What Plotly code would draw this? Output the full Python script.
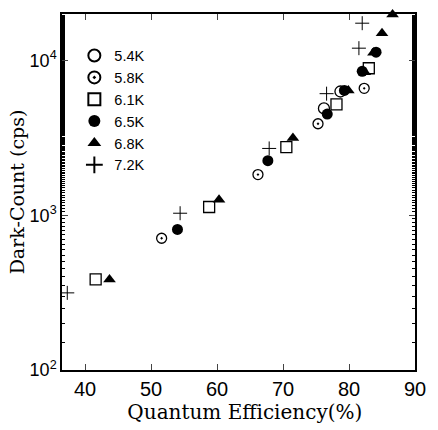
import plotly.graph_objects as go

# Data (Quantum Efficiency %, Dark-Count cps)
qe_54 = [76.2, 78.7]
dc_54 = [4900, 6300]

qe_58 = [51.6, 66.2, 75.3, 82.3]
dc_58 = [710, 1830, 3900, 6600]

qe_61 = [41.6, 58.8, 70.5, 78.1, 83.0]
dc_61 = [385, 1130, 2750, 5200, 8900]

qe_65 = [54.0, 67.7, 76.7, 79.3, 82.0, 84.1]
dc_65 = [810, 2250, 4500, 6400, 8500, 11300]

qe_68 = [43.7, 60.3, 71.5, 79.9, 82.4, 83.7, 85.0, 86.6]
dc_68 = [385, 1260, 3150, 6400, 8400, 11200, 15000, 19800]

qe_72 = [37.3, 54.4, 67.9, 76.6, 81.5, 82.0]
dc_72 = [315, 1030, 2700, 6100, 12000, 17400]

x_ticks = [40, 50, 60, 70, 80, 90]
y_tickvals = [100, 1000, 10000]
y_ticktext = ["10<sup>2</sup>", "10<sup>3</sup>", "10<sup>4</sup>"]

fig = go.Figure()

def add(x, y, name, symbol, size=10, color="black", width=1.3):
    fig.add_trace(go.Scatter(
        x=x, y=y, mode="markers", name=name, cliponaxis=False,
        marker=dict(symbol=symbol, size=size, color=color,
                    line=dict(color="black", width=width)),
    ))

add(qe_54, dc_54, "5.4K", "circle-open", size=11)
add(qe_58, dc_58, "5.8K", "circle-open-dot", size=10)
add(qe_61, dc_61, "6.1K", "square-open", size=11)
add(qe_65, dc_65, "6.5K", "circle", size=11, width=0)
add(qe_68, dc_68, "6.8K", "triangle-up", size=11, width=0)
add(qe_72, dc_72, "7.2K", "cross-thin-open", size=10, width=1.0)

fig.update_layout(
    width=438, height=430,
    margin=dict(l=62, r=15, t=13, b=55),
    paper_bgcolor="white", plot_bgcolor="white",
    font=dict(family="Liberation Sans, Arial", size=16, color="black"),
    legend=dict(x=0.035, y=0.928, xanchor="left", yanchor="top",
                bgcolor="rgba(0,0,0,0)", font=dict(size=14.5),
                itemsizing="constant", tracegroupgap=0),
    showlegend=True,
)

fig.update_xaxes(
    range=[36.5, 90], tickvals=x_ticks, ticks="inside", ticklen=6,
    showline=True, linecolor="black", linewidth=1.5, mirror="ticks",
    showgrid=False, zeroline=False,
    tickfont=dict(size=20, family="Liberation Sans, Arial"),
    title=dict(text="&nbsp;&nbsp;Quantum Efficiency(%)", standoff=4,
               font=dict(family="DejaVu Serif", size=20)),
)
fig.update_yaxes(
    type="log", range=[2, 4.30], tickvals=y_tickvals, ticktext=y_ticktext,
    ticks="inside", ticklen=6,
    minor=dict(ticks="inside", ticklen=3, tickcolor="black", showgrid=False),
    showline=True, linecolor="black", linewidth=1.5, mirror="ticks",
    showgrid=False, zeroline=False,
    tickfont=dict(size=18, family="Liberation Sans, Arial"),
    title=dict(text="Dark-Count (cps)", standoff=0,
               font=dict(family="DejaVu Serif", size=19)),
)

fig.write_html("out.html", config={"displayModeBar": False},
               post_script="document.body.style.margin='0px';")
